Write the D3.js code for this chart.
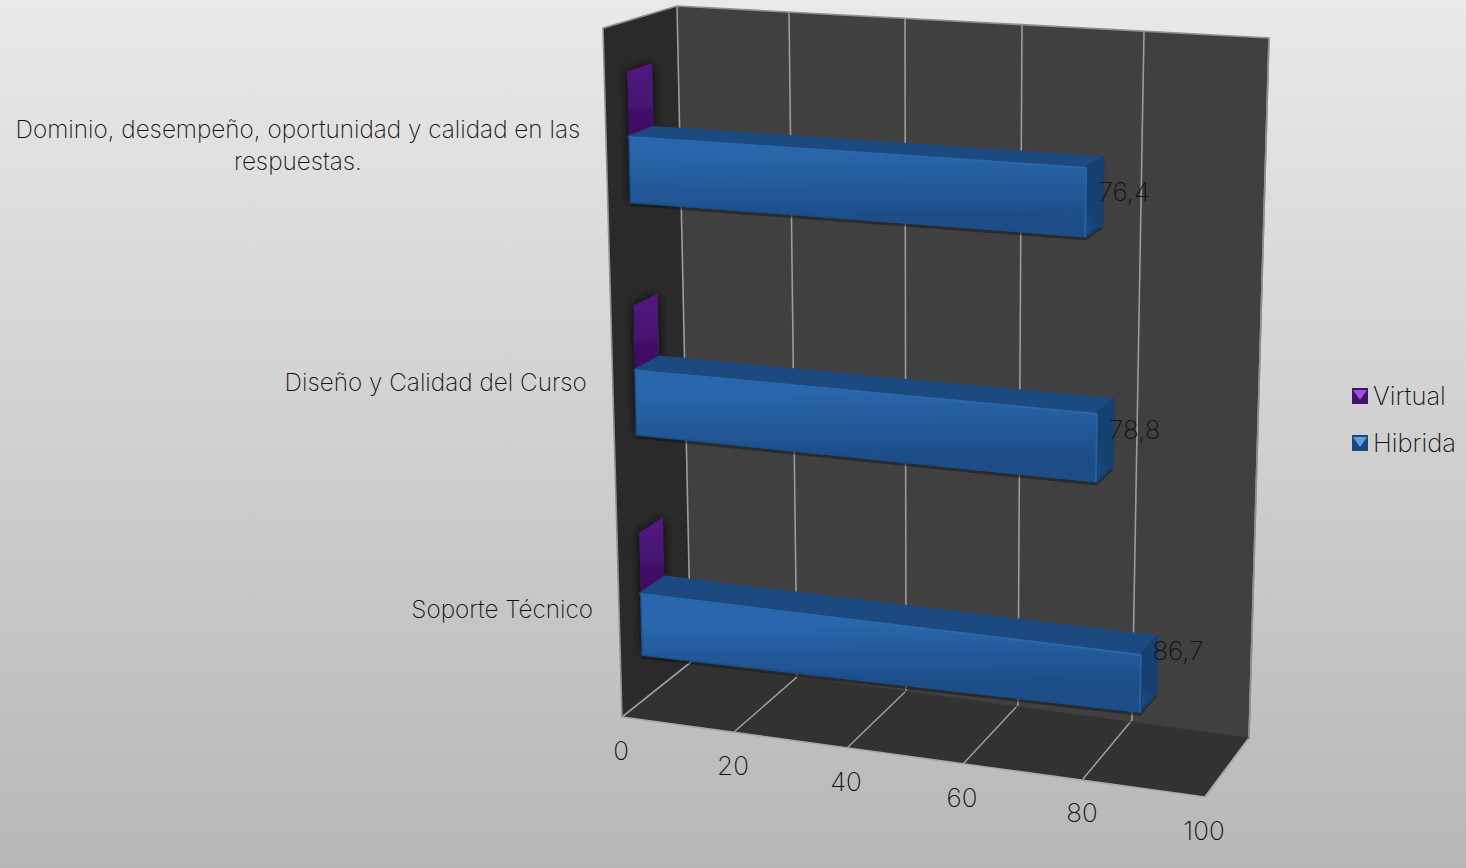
<!DOCTYPE html>
<html><head><meta charset="utf-8">
<script src="https://cdnjs.cloudflare.com/ajax/libs/d3/7.8.5/d3.min.js"></script>
<style>html,body{margin:0;padding:0;overflow:hidden;background:#ccc}svg{display:block}
text{font-family:Inter,Lato,sans-serif;font-weight:200;fill:#111}</style></head>
<body><svg id="c" width="1466" height="868"></svg>
<script>
// ---- data ----
const categories = ["Soporte Técnico", "Diseño y Calidad del Curso", "Dominio, desempeño, oportunidad y calidad en las respuestas."];
const seriesNames = ["Hibrida", "Virtual"];
const hibrida = [86.7, 78.8, 76.4];
const virtual = [0, 0, 0];
const dataLabels = ["86,7", "78,8", "76,4"];
const axisTicks = [0, 20, 40, 60, 80, 100];

// ---- perspective calibration of the box (scales) ----
const frontFloorX = d3.scaleLinear().domain(axisTicks).range([622, 734, 847, 963, 1083, 1205]);
const frontFloorY = d3.scaleLinear().domain(axisTicks).range([717, 732, 748, 764, 779, 797]);
const backFloorX  = d3.scaleLinear().domain(axisTicks).range([691, 797, 906, 1018, 1132, 1249]);
const backFloorY  = d3.scaleLinear().domain(axisTicks).range([662, 677, 691, 705, 720, 738]);
const backTopX    = d3.scaleLinear().domain(axisTicks).range([677, 789, 905, 1022, 1144, 1269]);
const backTopY    = d3.scaleLinear().domain(axisTicks).range([6, 12, 19, 25, 31, 38]);
const frontLean   = d3.scaleLinear().domain([0, 100]).range([-19, 21]);
const heightWarp  = d3.scaleLinear().domain([0, 0.4, 0.733, 0.918, 1]).range([0, 0.39, 0.733, 0.926, 1]);
const heightLift  = d3.scaleLinear().domain([0, 0.0675, 0.16, 1]).range([0, 0.012, 0, 0]);
const FRONT_RATIO = 1.05;
const lerp = (a, b, t) => a + (b - a) * t;
function project(v, h0, d) {
  const h = heightWarp(h0) + heightLift(h0) * v / 100;
  const fb = [frontFloorX(v), frontFloorY(v)], bb = [backFloorX(v), backFloorY(v)], bt = [backTopX(v), backTopY(v)];
  const ft = [fb[0] + frontLean(v), fb[1] + (bt[1] - bb[1]) * FRONT_RATIO];
  const bot = [lerp(fb[0], bb[0], d), lerp(fb[1], bb[1], d)];
  const top = [lerp(ft[0], bt[0], d), lerp(ft[1], bt[1], d)];
  return [lerp(bot[0], top[0], h), lerp(bot[1], top[1], h)];
}
const band = d3.scaleBand().domain(categories).range([0, 0.9857]).paddingInner(0.444).paddingOuter(0.2028);
const group = d3.scaleBand().domain(seriesNames).range([0, band.bandwidth()]);
const D0 = 0.31, D1 = 0.65;
const labelLift = [14, 3, 0];

const svg = d3.select("#c");
const defs = svg.append("defs");
const bg = defs.append("linearGradient").attr("id", "bg").attr("x1", 0).attr("y1", 0).attr("x2", 0).attr("y2", 1);
bg.append("stop").attr("offset", 0).attr("stop-color", "#e9e9e9");
bg.append("stop").attr("offset", 1).attr("stop-color", "#b7b7b7");
defs.append("filter").attr("id", "soft").append("feGaussianBlur").attr("stdDeviation", 0.7);
defs.append("filter").attr("id", "shadow").attr("x", "-50%").attr("y", "-50%").attr("width", "200%").attr("height", "200%").append("feGaussianBlur").attr("stdDeviation", 6);
svg.append("rect").attr("width", 1466).attr("height", 868).attr("fill", "url(#bg)");

const poly = pts => "M" + pts.map(p => p.join(",")).join("L") + "Z";
const line = d3.line();
const g = svg.append("g").attr("filter", "url(#soft)");

// walls
g.append("path").attr("d", poly([project(0,0,0), project(100,0,0), project(100,0,1), project(0,0,1)])).attr("fill", "#303030");
g.append("path").attr("d", poly([project(0,0,1), project(100,0,1), project(100,1,1), project(0,1,1)])).attr("fill", "#3f3f3f");
g.append("path").attr("d", poly([project(0,0,0), project(0,0,1), project(0,1,1), project(0,1,0)])).attr("fill", "#2b2b2b");

// grid lines
const gridColor = "#9c9c9c";
axisTicks.forEach(t => {
  g.append("path").attr("d", line([project(t,0,0), project(t,0,1), project(t,1,1)])).attr("fill", "none").attr("stroke", gridColor).attr("stroke-width", 1.6);
});
g.append("path").attr("d", line([project(0,0,0), project(100,0,0), project(100,0,1)])).attr("fill", "none").attr("stroke", "#a8a8a8").attr("stroke-width", 1.6);
g.append("path").attr("d", line([project(0,0,0), project(0,1,0), project(0,1,1), project(100,1,1), project(100,0,1)])).attr("fill", "none").attr("stroke", "#8f8f8f").attr("stroke-width", 1.6);
g.append("path").attr("d", line([project(0,0,1), project(100,0,1)])).attr("fill", "none").attr("stroke", "#333").attr("stroke-width", 1);

// shadows on the left wall
const clip = defs.append("clipPath").attr("id", "leftWall");
clip.append("path").attr("d", poly([project(0,0,0), project(0,0,1), project(0,1,1), project(0,1,0)]));
const shadowG = g.append("g").attr("clip-path", "url(#leftWall)");

const palette = {
  Hibrida: {front: ["#2a66ab", "#1c4d87"], top: "#1b4a80", side: ["#1c4f8a", "#163f70"], edge: "#2b69ae", edge2: "#26609f"},
  Virtual: {front: ["#521680", "#3d0f60"], top: "#3d0f60", side: ["#521680", "#3d0f60"], edge: "#521680", edge2: "#521680"}
};
const valuesOf = {Hibrida: hibrida, Virtual: virtual};

let gid = 0;
function gradient(a, b, c0, c1) {
  const id = "g" + (gid++);
  const lg = defs.append("linearGradient").attr("id", id).attr("gradientUnits", "userSpaceOnUse")
    .attr("x1", a[0]).attr("y1", a[1]).attr("x2", b[0]).attr("y2", b[1]);
  lg.append("stop").attr("offset", 0).attr("stop-color", c0);
  lg.append("stop").attr("offset", 1).attr("stop-color", c1);
  return "url(#" + id + ")";
}

categories.forEach((cat, i) => {
  seriesNames.slice().reverse().forEach(name => {
    const v = valuesOf[name][i], col = palette[name];
    const h0 = band(cat) + group(name), h1 = h0 + group.bandwidth();
    const A = project(0,h1,D0), B = project(v,h1,D0), C = project(v,h0,D0), E = project(0,h0,D0);
    const A2 = project(0,h1,D1), B2 = project(v,h1,D1), C2 = project(v,h0,D1), E2 = project(0,h0,D1);
    shadowG.append("path").attr("d", poly([A, A2, E2, E])).attr("fill", "#0c0c0c").attr("fill-opacity", .85).attr("filter", "url(#shadow)");
    const bar = g.append("g").attr("class", "bar");
    if (v === 0) {
      bar.append("path").attr("d", poly([A, A2, E2, E])).attr("fill", gradient([(A[0]+A2[0])/2,(A[1]+A2[1])/2], [(E[0]+E2[0])/2,(E[1]+E2[1])/2], col.side[0], col.side[1]));
    } else {
      bar.append("path").attr("d", line([[E[0],E[1]+2],[C[0],C[1]+2],[C2[0],C2[1]+2]])).attr("fill","none").attr("stroke","#141414").attr("stroke-width",3).attr("stroke-opacity",.5);
      bar.append("path").attr("d", poly([A, B, B2, A2])).attr("fill", col.top).attr("stroke", col.top).attr("stroke-linejoin", "round").attr("stroke-width", 3);
      bar.append("path").attr("d", poly([B, B2, C2, C])).attr("fill", gradient(C, C2, col.side[0], col.side[1])).attr("stroke", col.side[1]).attr("stroke-linejoin", "round").attr("stroke-width", 3);
      bar.append("path").attr("d", poly([A, B, C, E])).attr("fill", gradient([(A[0]+B[0])/2,(A[1]+B[1])/2], [(E[0]+C[0])/2,(E[1]+C[1])/2], col.front[0], col.front[1])).attr("stroke", col.front[1]).attr("stroke-linejoin", "round").attr("stroke-width", 1.5);
      bar.append("path").attr("d", line([A, B])).attr("fill", "none").attr("stroke", col.edge).attr("stroke-width", 2);
      bar.append("path").attr("d", line([B, C])).attr("fill", "none").attr("stroke", col.edge2).attr("stroke-width", 2);
    }
  });
});

// text
const FS_CAT = 24.3, FS_NUM = 26, FS_LEG = 25.5;
axisTicks.forEach(t => {
  svg.append("text").attr("x", frontFloorX(t) - 1).attr("y", frontFloorY(t) + 34).attr("dy", "0.36em").attr("text-anchor", "middle").attr("font-size", FS_NUM).text(t);
});
const wrapLines = {2: ["Dominio, desempeño, oportunidad y calidad en las", "respuestas."]};
categories.forEach((cat, i) => {
  const p = project(0, band(cat) + band.bandwidth() / 2 , 0);
  const right = p[0] - 26, lines = wrapLines[i] || [cat];
  const t = svg.append("text").attr("font-size", FS_CAT);
  const y = p[1];
  const first = t.append("tspan").text(lines[0]);
  const w = first.node().getComputedTextLength();
  t.remove();
  lines.forEach((l, k) => {
    svg.append("text").attr("x", right - w / 2).attr("y", y + (k - (lines.length - 1) / 2) * 32).attr("dy", "0.36em").attr("text-anchor", "middle").attr("font-size", FS_CAT).text(l);
  });
});
categories.forEach((cat, i) => {
  const h = band(cat) + group("Hibrida") + group.bandwidth() * 0.5;
  const p = project(hibrida[i], h, D1);
  svg.append("text").attr("x", p[0] - 4).attr("y", p[1] - labelLift[i]).attr("dy", "0.36em").attr("font-size", FS_NUM).text(dataLabels[i]);
});

// legend
const legendColors = {Virtual: ["#3c1468", "#7a2ec0", "#a04de0"], Hibrida: ["#1c4778", "#2f6fb5", "#5aa0e6"]};
const legendY = d3.scalePoint().domain(["Virtual", "Hibrida"]).range([396, 443]);
["Virtual", "Hibrida"].forEach(name => {
  const y = legendY(name), c = legendColors[name], x = 1352, s = 16, t = y - 8;
  const lg = svg.append("g").attr("filter", "url(#soft)");
  lg.append("rect").attr("x", x).attr("y", t).attr("width", s).attr("height", s).attr("fill", c[0]);
  lg.append("path").attr("d", poly([[x+1,t+2],[x+s-1,t+2],[x+s/2,t+s-4]])).attr("fill", c[2]);
  svg.append("text").attr("x", 1373).attr("y", y).attr("dy", "0.36em").attr("font-size", FS_LEG).text(name);
});
</script></body></html>
